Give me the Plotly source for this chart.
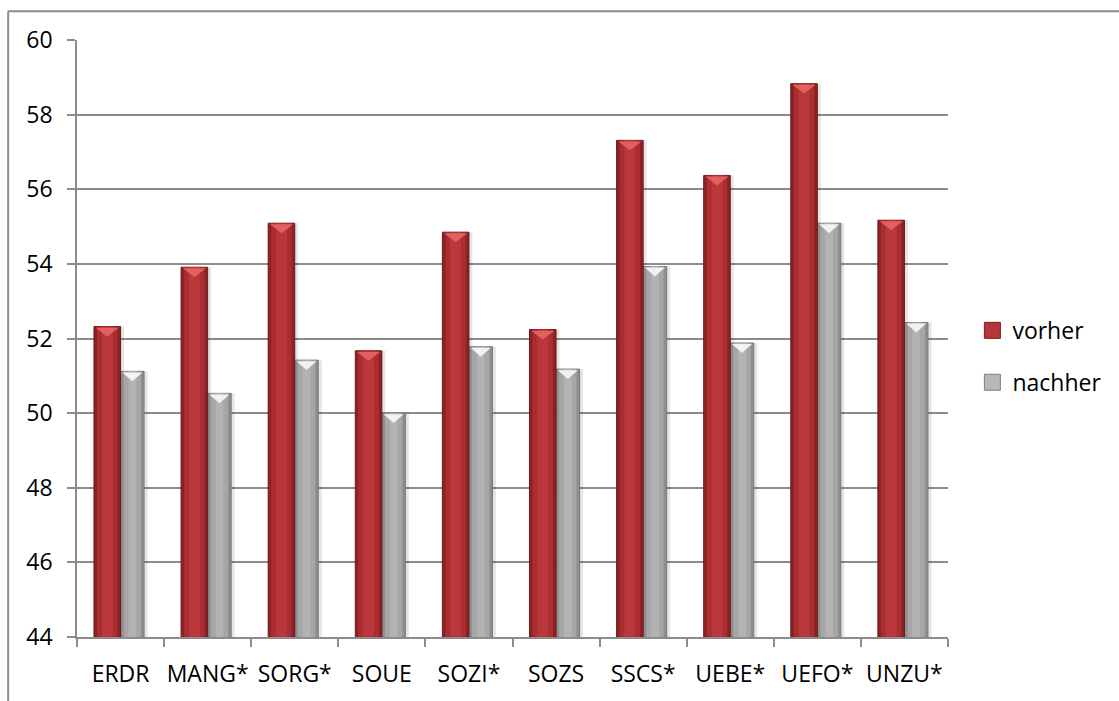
import plotly.graph_objects as go

categories = ["ERDR", "MANG*", "SORG*", "SOUE", "SOZI*", "SOZS", "SSCS*", "UEBE*", "UEFO*", "UNZU*"]
vorher = [52.32, 53.91, 55.09, 51.67, 54.85, 52.24, 57.31, 56.37, 58.83, 55.17]
nachher = [51.12, 50.53, 51.42, 50.00, 51.78, 51.18, 53.93, 51.88, 55.09, 52.43]
y_ticks = [44, 46, 48, 50, 52, 54, 56, 58, 60]

Y_MIN, Y_MAX = 44, 60
FONT = dict(family="'Open Sans', 'Noto Sans', sans-serif", size=23, color="#000000")
AXIS_GRAY = "#8C8C8C"

x_pos = list(range(len(categories)))

# bar geometry in category units
RED_OFF, RED_W = -0.305, 0.305
GRAY_OFF, GRAY_W = 0.0, 0.27

fig = go.Figure()


def layered_bars(values, offset, width, shades, line_color):
    """Stack progressively narrower bars to give a rounded, bevelled look."""
    insets = [0.0, 0.035, 0.09]
    for inset, shade in zip(insets, shades):
        fig.add_trace(go.Bar(
            x=x_pos, y=[v - Y_MIN for v in values], base=Y_MIN,
            offset=offset + inset, width=max(width - 2 * inset, 0.01),
            marker=dict(color=shade,
                        line=dict(color=line_color if inset == 0 else shade,
                                  width=1 if inset == 0 else 0)),
            showlegend=False, hoverinfo="skip",
        ))


def bevel_tops(values, offset, width, color, depth_px=10):
    """Down-pointing highlight triangle along the top edge of each bar."""
    depth = depth_px * (Y_MAX - Y_MIN) / 600.0
    xs, ys = [], []
    for i, v in enumerate(values):
        left = i + offset + 0.02
        right = i + offset + width - 0.02
        xs += [left, right, (left + right) / 2, left, None]
        ys += [v - 0.03, v - 0.03, v - depth, v - 0.03, None]
    fig.add_trace(go.Scatter(
        x=xs, y=ys, mode="lines", fill="toself", fillcolor=color,
        line=dict(width=0, color=color), showlegend=False, hoverinfo="skip",
    ))


# soft shadow behind the bars
for vals, off, w in [(vorher, RED_OFF, RED_W), (nachher, GRAY_OFF, GRAY_W)]:
    fig.add_trace(go.Bar(
        x=x_pos, y=[v - Y_MIN for v in vals], base=Y_MIN,
        offset=off + 0.04, width=w, marker=dict(color="rgba(0,0,0,0.10)", line=dict(width=0)),
        showlegend=False, hoverinfo="skip",
    ))

layered_bars(nachher, GRAY_OFF, GRAY_W, ["#8E8E8E", "#A6A6A6", "#B3B3B3"], "#7A7A7A")
bevel_tops(nachher, GRAY_OFF, GRAY_W, "#F2F2F2")
layered_bars(vorher, RED_OFF, RED_W, ["#8C2225", "#A92D31", "#BA383B"], "#6E1A1C")
bevel_tops(vorher, RED_OFF, RED_W, "#E0615E")

# legend entries
fig.add_trace(go.Scatter(
    x=[None], y=[None], mode="markers", name="vorher", legendgroup="a",
    marker=dict(symbol="square", size=16, color="#B5363A",
                line=dict(color="#7A1C1E", width=1)),
))
fig.add_trace(go.Scatter(
    x=[None], y=[None], mode="markers", name="nachher", legendgroup="b",
    marker=dict(symbol="square", size=16, color="#B8B8B8",
                line=dict(color="#7E7E7E", width=1)),
))

fig.update_layout(
    width=1119, height=701, autosize=False,
    margin=dict(l=77, r=169, t=40, b=61),
    paper_bgcolor="white", plot_bgcolor="white",
    font=FONT, barmode="overlay",
    showlegend=True,
    legend=dict(x=1.028, xanchor="left", y=0.47, yanchor="middle",
                traceorder="grouped", tracegroupgap=19,
                font=FONT, bgcolor="rgba(0,0,0,0)"),
    xaxis=dict(
        range=[-0.5, len(categories) - 0.5],
        tickmode="array", tickvals=x_pos, ticktext=categories,
        ticks="", showgrid=False, zeroline=False,
        showline=True, linecolor=AXIS_GRAY, linewidth=1.5,
        ticklabelstandoff=16,
        minor=dict(tickmode="linear", tick0=-0.5, dtick=1, ticks="outside",
                   ticklen=8, tickcolor=AXIS_GRAY, tickwidth=1.5, showgrid=False),
    ),
    yaxis=dict(
        range=[Y_MIN, Y_MAX], tickmode="array", tickvals=y_ticks,
        ticks="outside", ticklen=8, tickcolor=AXIS_GRAY, tickwidth=1.5,
        showgrid=True, gridcolor=AXIS_GRAY, gridwidth=1.5,
        showline=True, linecolor=AXIS_GRAY, linewidth=1.5, zeroline=False,
        ticklabelstandoff=10,
    ),
    shapes=[
        # outer chart frame (top and left edges)
        dict(type="line", xref="paper", yref="paper",
             x0=(8 - 77) / 873, x1=1.25, y0=(640 - 11) / 600, y1=(640 - 11) / 600,
             line=dict(color=AXIS_GRAY, width=2)),
        dict(type="line", xref="paper", yref="paper",
             x0=(8 - 77) / 873, x1=(8 - 77) / 873, y0=(640 - 11) / 600, y1=-0.2,
             line=dict(color=AXIS_GRAY, width=2)),
    ],
)

fig.write_html("out.html")
